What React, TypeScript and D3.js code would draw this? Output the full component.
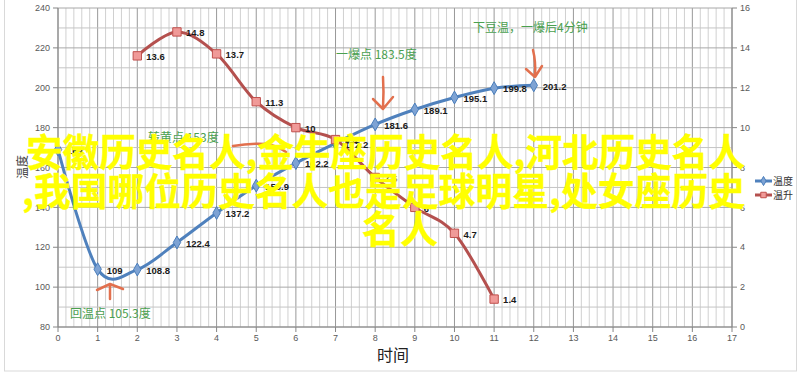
import React from "react";
import * as d3 from "d3";

// ---- data ----
const tempTimes = [0, 1, 2, 3, 4, 5, 6, 7, 8, 9, 10, 11, 12];
const tempValues = [169, 109, 108.8, 122.4, 137.2, 150.9, 162.2, 172.2, 181.6, 189.1, 195.1, 199.8, 201.2];
const riseTimes = [2, 3, 4, 5, 6, 7, 8, 9, 10, 11];
const riseValues = [13.6, 14.8, 13.7, 11.3, 10, 9.4, 7.5, 6, 4.7, 1.4];
const xTicks = d3.range(0, 18);
const leftTicks = [80, 100, 120, 140, 160, 180, 200, 220, 240];
const rightTicks = [0, 2, 4, 6, 8, 10, 12, 14, 16];
const seriesNames = ["温度", "温升"];
const annotations = [
  { text: "回温点 105.3度", x: 70, y: 318 },
  { text: "转黄点 153度", x: 148, y: 142 },
  { text: "一爆点 183.5度", x: 336, y: 59 },
  { text: "下豆温，一爆后4分钟", x: 473, y: 32 },
];
const overlayLines = [
  "安徽历史名人,金牛座历史名人,河北历史名人",
  ",我国哪位历史名人也是足球明星,处女座历史",
  "名人",
];

const W = 800;
const H = 374;
const M = { left: 58, right: 732, top: 8, bottom: 327 };

const x = d3.scaleLinear().domain([0, 17]).range([M.left, M.right]);
const yL = d3.scaleLinear().domain([80, 240]).range([M.bottom, M.top]);
const yR = d3.scaleLinear().domain([0, 16]).range([M.bottom, M.top]);

const BLUE = "#4f81bd";
const RED = "#b4504e";
const GREEN = "#4aa04f";
const ORANGE = "#e2704e";

export default function App() {
  const tempPts = tempTimes.map((t, i) => [t, tempValues[i]] as [number, number]);
  const risePts = riseTimes.map((t, i) => [t, riseValues[i]] as [number, number]);
  const lineL = d3
    .line<[number, number]>()
    .x((d) => x(d[0]))
    .y((d) => yL(d[1]))
    .curve(d3.curveCardinal.tension(0));
  const lineR = d3
    .line<[number, number]>()
    .x((d) => x(d[0]))
    .y((d) => yR(d[1]))
    .curve(d3.curveCardinal.tension(0));

  const minorX = d3.range(0, 17 * 5 + 1).map((i) => i / 5);
  const hLines = d3.range(80, 241, 10);
  const diamond = d3.symbol(d3.symbolDiamond, 48)() as string;
  const square = d3.symbol(d3.symbolSquare, 70)() as string;
  const font = "'Liberation Sans', Arial, sans-serif";
  const cjk = "'Noto Sans CJK SC', 'Noto Sans', sans-serif";

  return (
    <svg
      width={W}
      height={H}
      style={{ position: "fixed", left: 0, top: 0, background: "#fff" }}
    >
      <rect x={0} y={0} width={W} height={H} fill="#fff" />
      <rect x={4.5} y={-1} width={792} height={372} fill="none" stroke="#d9d9d9" />

      {/* gridlines */}
      {minorX.map((v, i) => (
        <line
          key={"mx" + i}
          x1={x(v)}
          x2={x(v)}
          y1={M.top}
          y2={M.bottom}
          stroke={i % 5 === 0 ? "#999999" : "#d0d0d0"}
          strokeWidth={1}
        />
      ))}
      {hLines.map((v) => (
        <line
          key={"h" + v}
          x1={M.left}
          x2={M.right}
          y1={yL(v)}
          y2={yL(v)}
          stroke={v % 20 === 0 ? "#a8a8a8" : "#c4c4c4"}
          strokeWidth={1}
        />
      ))}

      {/* axes */}
      <line x1={M.left} x2={M.left} y1={M.top} y2={M.bottom} stroke="#868686" />
      <line x1={M.right} x2={M.right} y1={M.top} y2={M.bottom} stroke="#868686" />
      <line x1={M.left} x2={M.right} y1={M.bottom} y2={M.bottom} stroke="#868686" />
      {leftTicks.map((v) => (
        <g key={"lt" + v}>
          <line x1={M.left - 5} x2={M.left} y1={yL(v)} y2={yL(v)} stroke="#868686" />
          <text
            x={M.left - 8}
            y={yL(v)}
            dy="0.35em"
            textAnchor="end"
            fontSize={9}
            fontFamily={font}
            fill="#595959"
          >
            {v}
          </text>
        </g>
      ))}
      {rightTicks.map((v) => (
        <g key={"rt" + v}>
          <line x1={M.right} x2={M.right + 5} y1={yR(v)} y2={yR(v)} stroke="#868686" />
          <text
            x={M.right + 8}
            y={yR(v)}
            dy="0.35em"
            textAnchor="start"
            fontSize={9}
            fontFamily={font}
            fill="#595959"
          >
            {v}
          </text>
        </g>
      ))}
      {xTicks.map((v) => (
        <g key={"xt" + v}>
          <line x1={x(v)} x2={x(v)} y1={M.bottom} y2={M.bottom + 5} stroke="#868686" />
          <text
            x={x(v)}
            y={M.bottom + 14}
            textAnchor="middle"
            fontSize={9}
            fontFamily={font}
            fill="#595959"
          >
            {v}
          </text>
        </g>
      ))}
      <text x={393} y={361} textAnchor="middle" fontSize={16} fontFamily={cjk} fill="#222">
        时间
      </text>
      <text
        transform={`translate(27,167) rotate(-90)`}
        textAnchor="middle"
        fontSize={12}
        fontFamily={cjk}
        fill="#444"
      >
        温度
      </text>

      {/* series */}
      <path d={lineL(tempPts) || ""} fill="none" stroke={BLUE} strokeWidth={3} />
      <path d={lineR(risePts) || ""} fill="none" stroke={RED} strokeWidth={3} />
      {tempPts.map((d, i) => (
        <path
          key={"bm" + i}
          d={diamond}
          transform={`translate(${x(d[0])},${yL(d[1])})`}
          fill="#7ea3d4"
          stroke="#4a7ebb"
          strokeWidth={1}
        />
      ))}
      {risePts.map((d, i) => (
        <path
          key={"rm" + i}
          d={square}
          transform={`translate(${x(d[0])},${yR(d[1])})`}
          fill="#f09a98"
          stroke="#c0504d"
          strokeWidth={1}
        />
      ))}
      {tempPts.map((d, i) => (
        <text
          key={"bl" + i}
          x={x(d[0]) + 9}
          y={yL(d[1]) + 1}
          dy="0.35em"
          fontSize={9.5}
          fontWeight="bold"
          fontFamily={font}
          fill="#1a1a1a"
        >
          {d[1]}
        </text>
      ))}
      {risePts.map((d, i) => (
        <text
          key={"rl" + i}
          x={x(d[0]) + 9}
          y={yR(d[1]) + 1}
          dy="0.35em"
          fontSize={9.5}
          fontWeight="bold"
          fontFamily={font}
          fill="#1a1a1a"
        >
          {d[1]}
        </text>
      ))}

      {/* annotations */}
      {annotations.map((a) => (
        <text key={a.text} x={a.x} y={a.y} fontSize={12} fontFamily={cjk} fill={GREEN}>
          {a.text}
        </text>
      ))}
      <g fill="none" stroke={ORANGE} strokeWidth={2.5} strokeLinecap="round" strokeLinejoin="round">
        <path d="M110,299 L110,284 M97,290 L110,284 L123,289" />
        <path d="M233,146 Q250,143 266,144 Q278,146 286,152" />
        <path d="M383,77 Q384,92 383,108 M373,99 L383,109 L393,97" />
        <path d="M533,50 Q536,62 535,76 M526,69 L535,77 L542,66" />
      </g>

      {/* legend */}
      <g fontSize={10} fontFamily={cjk} fill="#333">
        <line x1={755} x2={772} y1={181} y2={181} stroke={BLUE} strokeWidth={3} />
        <path d={d3.symbol(d3.symbolDiamond, 24)() as string} transform="translate(763.5,181)" fill="#7ea3d4" stroke="#4a7ebb" />
        <text x={773} y={181} dy="0.35em">{seriesNames[0]}</text>
        <line x1={755} x2={772} y1={195} y2={195} stroke={RED} strokeWidth={3} />
        <path d={d3.symbol(d3.symbolSquare, 30)() as string} transform="translate(763.5,195)" fill="#f09a98" stroke="#c0504d" />
        <text x={773} y={195} dy="0.35em">{seriesNames[1]}</text>
      </g>

      {/* overlay watermark text */}
      <g fill="#ffff00" stroke="#ffff00" strokeWidth={0.4} fontFamily={cjk} fontWeight={700} fontSize={38}>
        <text x={26} y={166} textLength={719} lengthAdjust="spacingAndGlyphs">
          {overlayLines[0]}
        </text>
        <text x={22} y={205} textLength={723} lengthAdjust="spacingAndGlyphs">
          {overlayLines[1]}
        </text>
        <text x={400} y={243} textAnchor="middle">
          {overlayLines[2]}
        </text>
      </g>
    </svg>
  );
}
